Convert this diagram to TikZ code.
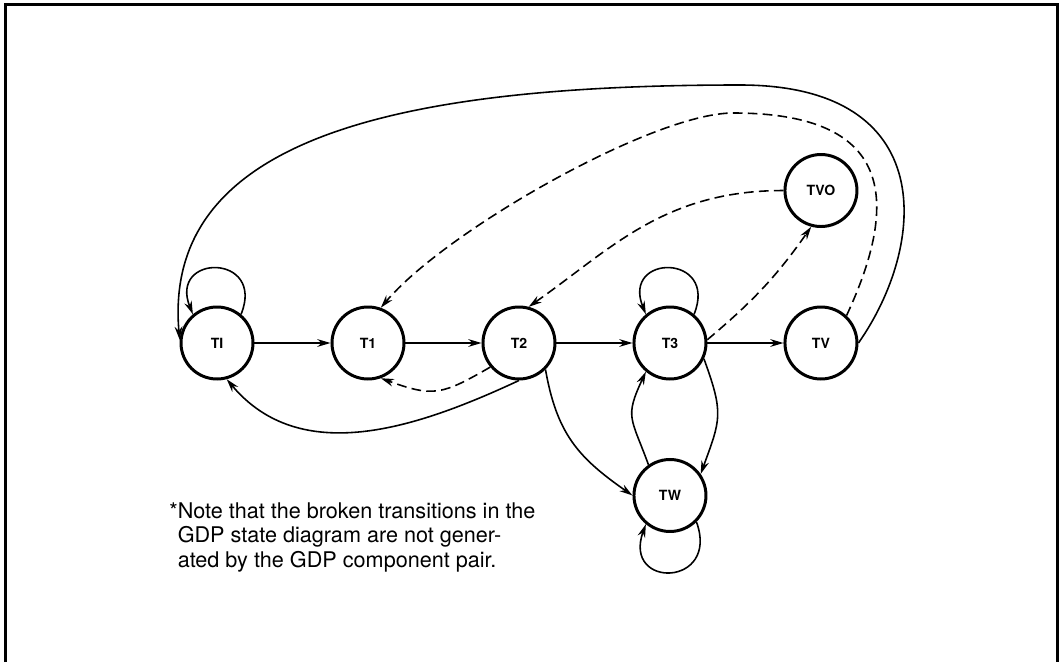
\documentclass[tikz,border=0pt]{standalone}
\usepackage{fontspec}
\setmainfont{TeX Gyre Heros}
\usetikzlibrary{arrows.meta, positioning, calc}

\begin{document}
\begin{tikzpicture}[>={Stealth[length=7.5pt,width=4.4pt]},
    state/.style={circle, draw, line width=1.7pt, minimum size=1.44cm, inner sep=0pt,
        font=\fontsize{8}{9.5}\selectfont\bfseries},
    trans/.style={->, line width=0.9pt},
    broken/.style={trans, dash pattern=on 5.5pt off 3pt},
    note/.style={align=left, inner sep=0pt, font=\fontsize{12.3}{14}\selectfont},
    node distance=1.52cm]
        \useasboundingbox (0,0) rectangle (21.2,13.24);
        % Frame
        \draw[line width=1.5pt] (0.11,0) -- (0.11,13.15) -- (21.15,13.15) -- (21.15,0);
        % States
        \node[state] (TI) at (4.34,6.38) {TI};
        \node[state, right=of TI] (T1) {T1};
        \node[state, right=of T1] (T2) {T2};
        \node[state, right=of T2] (T3) {T3};
        \node[state, right=of T3] (TV) {TV};
        \node[state, above=1.55cm of TV] (TVO) {TVO};
        \node[state, below=1.55cm of T3] (TW) {TW};
        \coordinate (solidtop) at (14.8,11.54);
        \coordinate (dashtop) at (14.66,10.98);
        % Main row
        \draw[trans] (TI) -- (T1);
        \draw[trans] (T1) -- (T2);
        \draw[trans] (T2) -- (T3);
        \draw[trans] (T3) -- (TV);
        % Self loops
        \draw[trans] (TI.50) to[out=68, in=112, looseness=3.5] (TI.130);
        \draw[trans] (T3.50) to[out=68, in=112, looseness=3.5] (T3.130);
        \draw[trans] (TW.-45) to[out=-70, in=-110, looseness=3.5] (TW.-130);
        % Wait state
        \draw[trans] (T2.-45) to[out=-80, in=145, looseness=1.1] (TW.west);
        \draw[trans] (T3.-25) to[out=-70, in=70, looseness=1.3] (TW.35);
        \draw[trans] (TW.125) to[out=110, in=-115, looseness=1.4] (T3.-130);
        % Back to idle
        \draw[trans] (T2.south) to[out=205, in=-50] (TI.-75);
        \draw[trans] (TV.east) .. controls +(55:2.4) and +(0:4) .. (solidtop)
            .. controls +(180:7) and +(95:4) .. (TI.175);
        % Broken transitions
        \draw[broken] (T2.-140) to[out=210, in=-20, looseness=1.3] (T1.-70);
        \draw[broken] (T3.5) to[out=40, in=-125] (TVO.-105);
        \draw[broken] (TVO.west) .. controls +(180:2.4) and +(35:2) .. (T2.75);
        \draw[broken] (TV.47) .. controls +(65:2.8) and +(0:3) .. (dashtop)
            .. controls +(180:1.6) and +(50:2) .. (T1.70);
        % Footnote
        \node[note, anchor=north west] (note) at (3.38,3.2)
            {*Note that the broken transitions in the\\
             \hphantom{*}GDP state diagram are not gener-\\
             \hphantom{*}ated by the GDP component pair.};
    \end{tikzpicture}
\end{document}
